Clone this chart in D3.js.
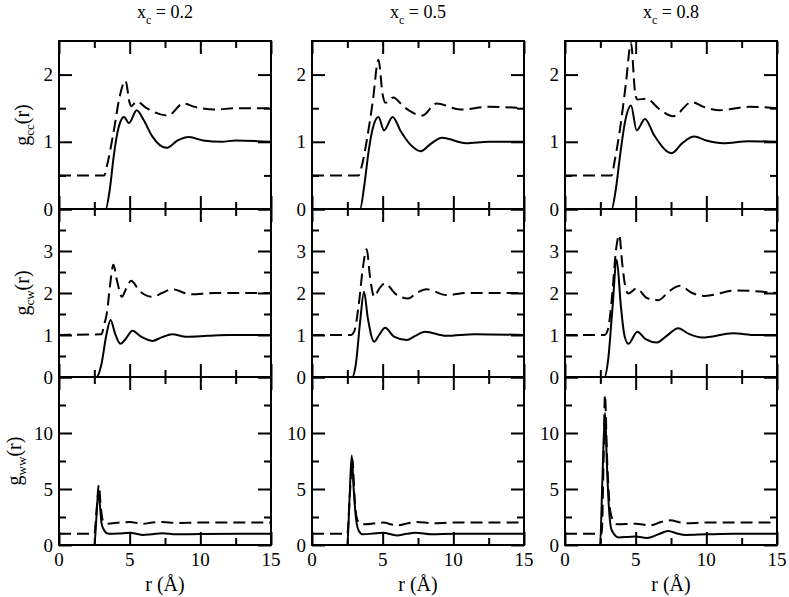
<!DOCTYPE html>
<html>
<head>
<meta charset="utf-8">
<script src="https://cdn.jsdelivr.net/npm/d3@7"></script>
<style>
  body { margin: 0; background: #fff; }
</style>
</head>
<body>
<script>
// Column titles (mole fraction) and row names
var xcLabels = ["0.2", "0.5", "0.8"];
var pairNames = ["cc", "cw", "ww"];

// x axis: r in Angstrom
var rMajor = [0, 5, 10, 15];
var rMinor = [2.5, 7.5, 12.5];

// y axis ticks for each row
var yMaxByRow = [2.5, 4, 15];
var yMajorByRow = [[0, 1, 2], [0, 1, 2, 3, 4], [0, 5, 10, 15]];
var yMinorByRow = [[0.5, 1.5], [0.5, 1.5, 2.5, 3.5], [2.5, 7.5, 12.5]];
var yLabelsByRow = [[0, 1, 2], [0, 1, 2, 3], [0, 5, 10]];

// g_cc(r), solid and dashed (dashed shifted up)
var gcc02Solid = [[0,0],[3.3,0],[3.6,0.3],[3.85,0.75],[4.1,1.1],[4.35,1.3],[4.6,1.37],[4.95,1.28],[5.5,1.47],[6.0,1.32],[6.6,1.08],[7.6,0.91],[8.4,1.02],[9.2,1.07],[10.2,1.02],[11.5,1.0],[12.5,1.02],[15,1.0]];
var gcc02Dashed = [[0,0.5],[3.2,0.5],[3.4,0.65],[3.85,1.13],[4.3,1.68],[4.7,1.91],[5.0,1.58],[5.1,1.53],[5.5,1.6],[6.2,1.5],[7.7,1.39],[8.8,1.57],[9.6,1.52],[11,1.48],[12.5,1.5],[15,1.5]];
var gcc05Solid = [[0,0],[3.4,0],[3.7,0.35],[4.0,0.85],[4.3,1.2],[4.7,1.37],[5.1,1.17],[5.7,1.37],[6.3,1.15],[7.0,0.95],[7.7,0.86],[8.4,0.97],[9.2,1.06],[10.9,0.98],[12.5,1.0],[15,1.0]];
var gcc05Dashed = [[0,0.5],[3.3,0.5],[3.5,0.62],[3.9,1.05],[4.3,1.6],[4.7,2.22],[5.0,1.7],[5.2,1.58],[5.75,1.66],[6.5,1.52],[7.8,1.39],[8.8,1.57],[10.5,1.48],[12.5,1.52],[15,1.5]];
var gcc08Solid = [[0,0],[3.3,0],[3.6,0.3],[3.9,0.8],[4.25,1.3],[4.67,1.54],[5.07,1.17],[5.66,1.34],[6.3,1.1],[7.55,0.83],[8.3,0.98],[9.13,1.08],[10,1.02],[11.2,0.98],[13,1.01],[15,1.0]];
var gcc08Dashed = [[0,0.5],[3.3,0.5],[3.5,0.7],[3.9,1.2],[4.3,1.85],[4.67,2.47],[4.95,1.75],[5.1,1.63],[5.78,1.64],[6.6,1.5],[7.66,1.38],[8.96,1.59],[9.8,1.52],[10.97,1.47],[13,1.52],[15,1.5]];

// g_cw(r)
var gcw02Solid = [[0,0],[2.65,0],[3.0,0.3],[3.35,1.0],[3.65,1.36],[3.95,1.05],[4.35,0.79],[4.7,0.9],[5.2,1.1],[5.8,0.96],[6.6,0.86],[7.3,0.95],[8.0,1.02],[9.0,0.96],[10.5,0.98],[12,1.0],[15,1.0]];
var gcw02Dashed = [[0,1.0],[3.0,1.02],[3.2,1.25],[3.4,1.55],[3.6,2.15],[3.85,2.67],[4.1,2.3],[4.45,1.91],[4.75,2.1],[5.1,2.29],[5.7,2.05],[6.6,1.91],[7.3,2.0],[8.0,2.09],[9.3,1.97],[11,2.0],[15,2.0]];
var gcw05Solid = [[0,0],[2.85,0],[3.1,0.3],[3.4,1.3],[3.68,2.03],[3.95,1.4],[4.4,0.84],[4.75,1.0],[5.17,1.17],[5.8,0.96],[6.7,0.88],[7.3,0.98],[8.0,1.08],[9.5,0.98],[11.5,1.02],[15,1.0]];
var gcw05Dashed = [[0,1.0],[2.75,1.0],[3.0,1.1],[3.3,1.7],[3.6,2.6],[3.87,3.04],[4.1,2.4],[4.4,1.91],[4.75,2.1],[5.17,2.23],[5.9,1.98],[6.8,1.87],[7.4,2.0],[8.1,2.09],[9.5,1.95],[11,2.0],[15,2.0]];
var gcw08Solid = [[0,0],[2.8,0],[3.05,0.4],[3.35,1.6],[3.66,2.79],[3.95,1.7],[4.2,1.0],[4.48,0.79],[5.12,1.08],[5.7,0.9],[6.5,0.82],[7.2,0.98],[8.0,1.16],[8.8,1.02],[9.7,0.94],[11.9,1.04],[13.5,1.0],[15,1.0]];
var gcw08Dashed = [[0,1.0],[2.8,1.0],[3.05,1.15],[3.35,2.0],[3.6,3.0],[3.84,3.38],[4.05,2.7],[4.3,2.1],[4.48,1.99],[5.07,2.11],[5.8,1.88],[6.6,1.83],[7.4,2.05],[8.14,2.17],[9.0,2.0],[9.9,1.93],[12.1,2.06],[15,2.0]];

// g_ww(r)
var gww02Solid = [[0,0],[2.5,0],[2.65,2.5],[2.78,4.8],[2.9,3.5],[3.0,2.0],[3.2,1.3],[3.5,1.0],[4.2,1.02],[5.0,1.1],[5.9,0.9],[6.6,0.97],[7.3,1.05],[8.3,0.95],[10,0.98],[15,1.0]];
var gww02Dashed = [[0,1.0],[2.5,1.0],[2.65,3.0],[2.82,5.35],[2.95,3.5],[3.1,2.2],[3.4,1.9],[4.3,2.0],[5.0,2.05],[5.9,1.9],[6.6,2.0],[7.3,2.05],[8.3,1.97],[10,2.0],[15,2.0]];
var gww05Solid = [[0,0],[2.5,0],[2.65,4.0],[2.81,8.0],[2.95,5.0],[3.1,2.5],[3.3,1.3],[3.6,0.95],[4.3,1.02],[5.0,1.1],[6.0,0.85],[6.7,1.0],[7.3,1.1],[8.5,0.95],[10,1.0],[15,1.0]];
var gww05Dashed = [[0,1.0],[2.5,1.0],[2.68,4.5],[2.86,7.7],[3.0,4.5],[3.15,2.5],[3.4,1.9],[3.7,1.85],[5.0,2.0],[6.0,1.75],[6.8,1.95],[7.4,2.05],[8.5,1.95],[10,2.0],[15,2.0]];
var gww08Solid = [[0,0],[2.48,0],[2.65,6.0],[2.83,11.8],[2.97,7.0],[3.1,3.5],[3.3,1.34],[3.8,0.68],[4.5,0.72],[5.0,0.75],[5.8,0.62],[6.6,0.95],[7.3,1.25],[8.0,1.0],[8.5,0.9],[10,0.95],[12,1.0],[15,1.0]];
var gww08Dashed = [[0,1.0],[2.6,1.0],[2.72,7.0],[2.83,13.4],[2.97,8.0],[3.1,4.5],[3.3,2.5],[3.7,1.85],[5.0,1.9],[6.0,1.75],[6.8,2.05],[7.4,2.2],[8.5,1.95],[10,2.0],[15,2.0]];

// panels[row][col] = [solid, dashed]
var panels = [
    [[gcc02Solid, gcc02Dashed], [gcc05Solid, gcc05Dashed], [gcc08Solid, gcc08Dashed]],
    [[gcw02Solid, gcw02Dashed], [gcw05Solid, gcw05Dashed], [gcw08Solid, gcw08Dashed]],
    [[gww02Solid, gww02Dashed], [gww05Solid, gww05Dashed], [gww08Solid, gww08Dashed]]
];

//Layout
var colLeft = [59, 312, 565],
    rowTop = [41, 209, 377],
    pw = 212, ph = 168,
    majorLen = 13, minorLen = 7;

var serif = "Times New Roman, Liberation Serif, DejaVu Serif, serif";

var svg = d3.select("body")
    .append("svg")
    .attr("width", 789)
    .attr("height", 597);

var defs = svg.append("defs");

var line = d3.line().curve(d3.curveMonotoneX);

// helper to add a serif text element
function addText(parent, size) {
    return parent.append("text")
        .style("font-family", serif)
        .style("font-size", size + "px")
        .attr("fill", "#000");
}

rowTop.forEach(function (top, ri) {
    colLeft.forEach(function (left, ci) {
        var x = d3.scaleLinear().domain([0, 15]).range([0, pw]);
        var y = d3.scaleLinear().domain([0, yMaxByRow[ri]]).range([ph, 0]);

        var g = svg.append("g")
            .attr("transform", "translate(" + left + "," + top + ")");

        var clipId = "clip" + ri + ci;
        defs.append("clipPath").attr("id", clipId)
            .append("rect").attr("width", pw).attr("height", ph);

        line.x(function (d) { return x(d[0]); })
            .y(function (d) { return y(d[1]); });

        var plot = g.append("g").attr("clip-path", "url(#" + clipId + ")");
        // dashed curve
        plot.append("path")
            .attr("d", line(panels[ri][ci][1]))
            .attr("fill", "none")
            .attr("stroke", "#000")
            .attr("stroke-width", 2)
            .attr("stroke-dasharray", "12,6");
        // solid curve
        plot.append("path")
            .attr("d", line(panels[ri][ci][0]))
            .attr("fill", "none")
            .attr("stroke", "#000")
            .attr("stroke-width", 2);

        //Inward ticks on all four sides, via d3 axes
        function tickAxis(axisFn, scale, values, len, transform) {
            g.append("g")
                .attr("transform", transform)
                .call(axisFn(scale).tickValues(values).tickSize(len).tickFormat(""))
                .call(function (s) {
                    s.select(".domain").remove();
                    s.selectAll("line").attr("stroke", "#000").attr("stroke-width", 2);
                });
        }
        tickAxis(d3.axisTop, x, rMajor, majorLen, "translate(0," + ph + ")");
        tickAxis(d3.axisTop, x, rMinor, minorLen, "translate(0," + ph + ")");
        tickAxis(d3.axisBottom, x, rMajor, majorLen, "translate(0,0)");
        tickAxis(d3.axisBottom, x, rMinor, minorLen, "translate(0,0)");
        tickAxis(d3.axisRight, y, yMajorByRow[ri], majorLen, "translate(0,0)");
        tickAxis(d3.axisRight, y, yMinorByRow[ri], minorLen, "translate(0,0)");
        tickAxis(d3.axisLeft, y, yMajorByRow[ri], majorLen, "translate(" + pw + ",0)");
        tickAxis(d3.axisLeft, y, yMinorByRow[ri], minorLen, "translate(" + pw + ",0)");

        // frame
        g.append("rect")
            .attr("width", pw)
            .attr("height", ph)
            .attr("fill", "none")
            .attr("stroke", "#000")
            .attr("stroke-width", 2);

        // y tick labels
        yLabelsByRow[ri].forEach(function (d) {
            addText(g, 19)
                .attr("x", -6)
                .attr("y", y(d) + 6.5)
                .attr("text-anchor", "end")
                .text(d);
        });

        // x tick labels, bottom row only
        if (ri === 2) {
            rMajor.forEach(function (d) {
                addText(g, 19)
                    .attr("x", x(d))
                    .attr("y", ph + 21)
                    .attr("text-anchor", "middle")
                    .text(d);
            });
            addText(g, 20)
                .attr("x", pw / 2)
                .attr("y", ph + 46)
                .attr("text-anchor", "middle")
                .text("r (Å)");
        }

        // column title
        if (ri === 0) {
            var t = addText(g, 18)
                .attr("x", pw / 2)
                .attr("y", -23)
                .attr("text-anchor", "middle");
            t.append("tspan").text("x");
            t.append("tspan").style("font-size", "12px").attr("dy", 6).text("c");
            t.append("tspan").attr("dy", -6).text(" = " + xcLabels[ci]);
        }

        // y axis title, first column only
        if (ci === 0) {
            var yl = addText(svg, 20)
                .attr("transform", "translate(" + (ri === 2 ? 21 : 29) + "," + (top + ph / 2) + ") rotate(-90)")
                .attr("text-anchor", "middle");
            yl.append("tspan").text("g");
            yl.append("tspan").style("font-size", "13px").attr("dy", 5).text(pairNames[ri]);
            yl.append("tspan").attr("dy", -5).text("(r)");
        }
    });
});
</script>
</body>
</html>
